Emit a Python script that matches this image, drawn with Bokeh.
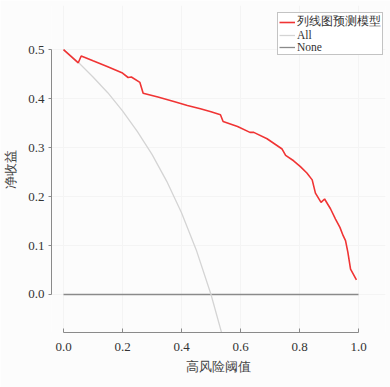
from bokeh.plotting import figure
from bokeh.models import Range1d, FixedTicker, Legend, LegendItem
from bokeh.embed import file_html
from bokeh.resources import INLINE

# Red curve: nomogram model net benefit
model_x = [0.0, 0.05, 0.06, 0.10, 0.15, 0.20, 0.219, 0.23, 0.259, 0.27, 0.32, 0.374, 0.42,
           0.464, 0.50, 0.532, 0.541, 0.59, 0.632, 0.645, 0.69, 0.741, 0.753, 0.78,
           0.803, 0.825, 0.843, 0.854, 0.873, 0.885, 0.905, 0.922, 0.937, 0.948,
           0.956, 0.964, 0.973, 0.993]
model_y = [0.500, 0.473, 0.487, 0.477, 0.465, 0.452, 0.443, 0.444, 0.433, 0.411, 0.403, 0.394, 0.386,
           0.379, 0.373, 0.367, 0.353, 0.343, 0.331, 0.331, 0.318, 0.297, 0.284, 0.273,
           0.261, 0.248, 0.234, 0.207, 0.188, 0.195, 0.175, 0.154, 0.137, 0.120,
           0.110, 0.086, 0.052, 0.030]

# Gray curve: treat all
all_x = [0.0, 0.05, 0.10, 0.15, 0.20, 0.25, 0.30, 0.35, 0.40, 0.45, 0.50, 0.54]
all_y = [0.500, 0.474, 0.444, 0.412, 0.375, 0.333, 0.286, 0.231, 0.167, 0.091, 0.000, -0.087]

# Treat none
none_x = [0.0, 1.0]
none_y = [0.0, 0.0]

x_ticks = [0.0, 0.2, 0.4, 0.6, 0.8, 1.0]
y_ticks = [0.0, 0.1, 0.2, 0.3, 0.4, 0.5]

labels = ["列线图预测模型", "All", "None"]
xlabel = "高风险阈值"
ylabel = "净收益"

FONT = "Liberation Serif"

p = figure(width=390, height=387, output_backend="svg", toolbar_location=None,
           x_range=Range1d(-0.0407, 1.0915), y_range=Range1d(-0.0776, 0.59),
           min_border_left=51, min_border_right=5, min_border_top=5, min_border_bottom=55)

p.background_fill_color = "#fcfcfc"
p.border_fill_color = "#fcfcfc"
p.outline_line_color = None
p.xgrid.grid_line_color = "#f4f4f4"
p.ygrid.grid_line_color = "#f4f4f4"
p.xgrid.ticker = FixedTicker(ticks=x_ticks)
p.ygrid.ticker = FixedTicker(ticks=y_ticks)

r_none = p.line(none_x, none_y, line_color="#8a8a8a", line_width=1.3)
r_all = p.line(all_x, all_y, line_color="#d4d4d4", line_width=1.3)
r_model = p.line(model_x, model_y, line_color="#f03434", line_width=1.6)

for ax in (p.xaxis[0], p.yaxis[0]):
    ax.axis_line_color = "#8a8a8a"
    ax.major_tick_line_color = "#8a8a8a"
    ax.minor_tick_line_color = None
    ax.major_label_text_font = FONT
    ax.major_label_text_font_size = "13px"
    ax.major_label_text_color = "#333333"
    ax.axis_label_text_font = FONT
    ax.axis_label_text_font_size = "13px"
    ax.axis_label_text_font_style = "normal"
    ax.axis_label_text_color = "#444444"

p.xaxis[0].ticker = FixedTicker(ticks=x_ticks)
p.xaxis[0].bounds = (0, 1)
p.xaxis[0].major_tick_in = 4
p.xaxis[0].major_tick_out = 0
p.xaxis[0].major_label_standoff = 10
p.xaxis[0].axis_label = xlabel
p.xaxis[0].axis_label_standoff = 5
p.xaxis[0].major_label_overrides = {t: f"{t:.1f}" for t in x_ticks}

p.yaxis[0].ticker = FixedTicker(ticks=y_ticks)
p.yaxis[0].bounds = (0, 0.5)
p.yaxis[0].major_tick_in = 0
p.yaxis[0].major_tick_out = 3
p.yaxis[0].major_label_standoff = 4
p.yaxis[0].axis_label = ylabel
p.yaxis[0].axis_label_standoff = 7
p.yaxis[0].major_label_overrides = {t: f"{t:.1f}" for t in y_ticks}

legend = Legend(items=[LegendItem(label=labels[0], renderers=[r_model]),
                       LegendItem(label=labels[1], renderers=[r_all]),
                       LegendItem(label=labels[2], renderers=[r_none])],
                location=(226, 277))
legend.label_text_font = FONT
legend.label_text_font_size = "11.5px"
legend.label_text_line_height = 1.0
legend.label_text_color = "#333333"
legend.label_height = 12
legend.glyph_height = 12
legend.glyph_width = 16
legend.label_standoff = 2
legend.spacing = 0
legend.padding = 1
legend.margin = 0
legend.border_line_color = "#888888"
legend.border_line_width = 1
legend.background_fill_color = "white"
legend.background_fill_alpha = 1.0
p.add_layout(legend, "center")

open("out.html", "w").write(file_html(p, INLINE))
